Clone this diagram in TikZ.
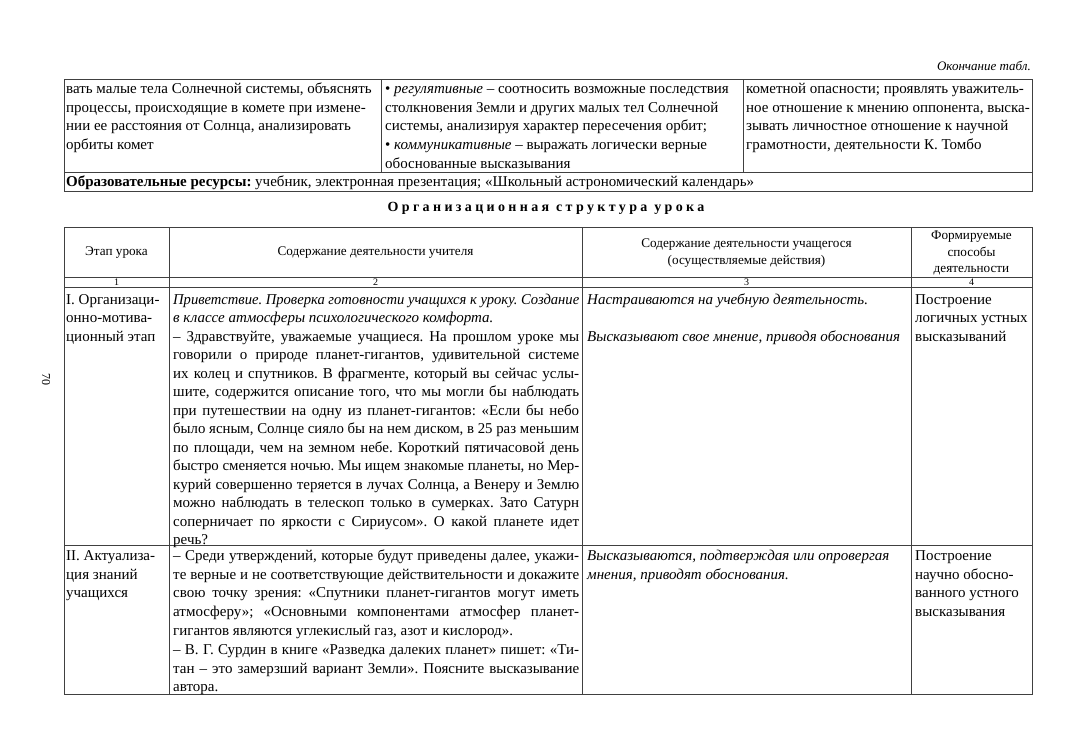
\documentclass[tikz,border=0pt]{standalone}
\usepackage{fontspec}
\usepackage{graphicx}
\setmainfont{Liberation Serif}
\newfontfamily\spacedfont[LetterSpace=24]{Liberation Serif}
\newsavebox\jlbox
\newcommand\jl[1]{\sbox\jlbox{#1}\ifdim\wd\jlbox>406pt \resizebox{406pt}{\height}{\usebox\jlbox}\else\makebox[406pt][s]{#1}\fi}
\newcommand\bodyfont{\fontsize{15}{18.5}\selectfont\frenchspacing}
\newcommand\topfont{\fontsize{15}{18.8}\selectfont\frenchspacing}
\newcommand\headfont{\fontsize{13.2}{16.5}\selectfont}
\begin{document}
\begin{tikzpicture}[x=1pt,y=-1pt,
  rule/.style={draw=black!75,line width=0.8pt},
  cell/.style={anchor=north west,inner sep=0pt,align=left,font=\bodyfont},
  topcell/.style={cell,font=\topfont},
  headcell/.style={anchor=center,inner sep=0pt,align=center,font=\headfont},
  numcell/.style={anchor=center,inner sep=0pt,font=\fontsize{10}{12}\selectfont}]
\useasboundingbox[fill=white] (0,0) rectangle (1084,755);
% top table
\draw[rule] (64,79) rectangle (1032,191);
\draw[rule] (64,172) -- (1032,172);
\draw[rule] (381,79) -- (381,172);
\draw[rule] (743,79) -- (743,172);
\node[anchor=base east,inner sep=0pt,font=\fontsize{13}{14}\selectfont\itshape] (cont) at (1031,70) {Окончание табл.};
\node[topcell] (t1) at (66,80) {\strut вать малые тела Солнечной системы, объяснять\\
процессы, происходящие в комете при измене-\\
нии ее расстояния от Солнца, анализировать\\
орбиты комет};
\node[topcell] (t2) at (385,80) {\strut • \textit{регулятивные} – соотносить возможные последствия\\
столкновения Земли и других малых тел Солнечной\\
системы, анализируя характер пересечения орбит;\\
• \textit{коммуникативные} – выражать логически верные\\
обоснованные высказывания};
\node[topcell] (t3) at (746,80) {\strut кометной опасности; проявлять уважитель-\\
ное отношение к мнению оппонента, выска-\\
зывать личностное отношение к научной\\
грамотности, деятельности К. Томбо};
\node[topcell] (res) at (66,173) {\strut\textbf{Образовательные ресурсы:} учебник, электронная презентация; «Школьный астрономический календарь»};
% title
\node[anchor=center,inner sep=0pt,font=\fontsize{14}{16}\selectfont\spacedfont\bfseries] (title) at (546,208) {Организационная структура урока};
% main table
\draw[rule] (64,227) rectangle (1032,694);
\draw[rule] (64,277) -- (1032,277);
\draw[rule] (64,287) -- (1032,287);
\draw[rule] (64,545) -- (1032,545);
\draw[rule] (169,227) -- (169,694);
\draw[rule] (582,227) -- (582,694);
\draw[rule] (911,227) -- (911,694);
\node[headcell] (h1) at (116.5,253) {Этап урока};
\node[headcell] (h2) at (375.5,253) {Содержание деятельности учителя};
\node[headcell] (h3) at (746.5,253) {Содержание деятельности учащегося\\(осуществляемые действия)};
\node[headcell] (h4) at (971.5,253) {Формируемые\\способы\\деятельности};
\node[numcell] (n1) at (116.5,282) {1};
\node[numcell] (n2) at (375.5,282) {2};
\node[numcell] (n3) at (746.5,282) {3};
\node[numcell] (n4) at (971.5,282) {4};
% row I
\node[cell] (a1) at (66,291) {\strut I. Организаци-\\онно-мотива-\\ционный этап};
\node[cell] (a2) at (173,291) {\strut\jl{\itshape Приветствие. Проверка готовности учащихся к уроку. Создание}\\
\textit{в классе атмосферы психологического комфорта.}\\
\jl{– Здравствуйте, уважаемые учащиеся. На прошлом уроке мы}\\
\jl{говорили о природе планет-гигантов, удивительной системе}\\
\jl{их колец и спутников. В фрагменте, который вы сейчас услы-}\\
\jl{шите, содержится описание того, что мы могли бы наблюдать}\\
\jl{при путешествии на одну из планет-гигантов: «Если бы небо}\\
\jl{было ясным, Солнце сияло бы на нем диском, в 25 раз меньшим}\\
\jl{по площади, чем на земном небе. Короткий пятичасовой день}\\
\jl{быстро сменяется ночью. Мы ищем знакомые планеты, но Мер-}\\
\jl{курий совершенно теряется в лучах Солнца, а Венеру и Землю}\\
\jl{можно наблюдать в телескоп только в сумерках. Зато Сатурн}\\
\jl{соперничает по яркости с Сириусом». О какой планете идет}\\
речь?};
\node[cell] (a3) at (587,291) {\strut\textit{Настраиваются на учебную деятельность.}\\ \\
\textit{Высказывают свое мнение, приводя обоснования}};
\node[cell] (a4) at (915,291) {\strut Построение\\логичных устных\\высказываний};
% row II
\node[cell,font=\topfont] (b1) at (66,547) {\strut II. Актуализа-\\ция знаний\\учащихся};
\node[cell,font=\topfont] (b2) at (173,547) {\strut\jl{– Среди утверждений, которые будут приведены далее, укажи-}\\
\jl{те верные и не соответствующие действительности и докажите}\\
\jl{свою точку зрения: «Спутники планет-гигантов могут иметь}\\
\jl{атмосферу»; «Основными компонентами атмосфер планет-}\\
гигантов являются углекислый газ, азот и кислород».\\
\jl{– В. Г. Сурдин в книге «Разведка далеких планет» пишет: «Ти-}\\
\jl{тан – это замерзший вариант Земли». Поясните высказывание}\\
автора.};
\node[cell,font=\topfont] (b3) at (587,547) {\strut\textit{Высказываются, подтверждая или опровергая}\\
\textit{мнения, приводят обоснования.}};
\node[cell,font=\topfont] (b4) at (915,547) {\strut Построение\\научно обосно-\\ванного устного\\высказывания};
% page number
\node[rotate=-90,inner sep=0pt,font=\fontsize{12}{14}\selectfont] (page) at (46,379) {70};
\end{tikzpicture}
\end{document}
